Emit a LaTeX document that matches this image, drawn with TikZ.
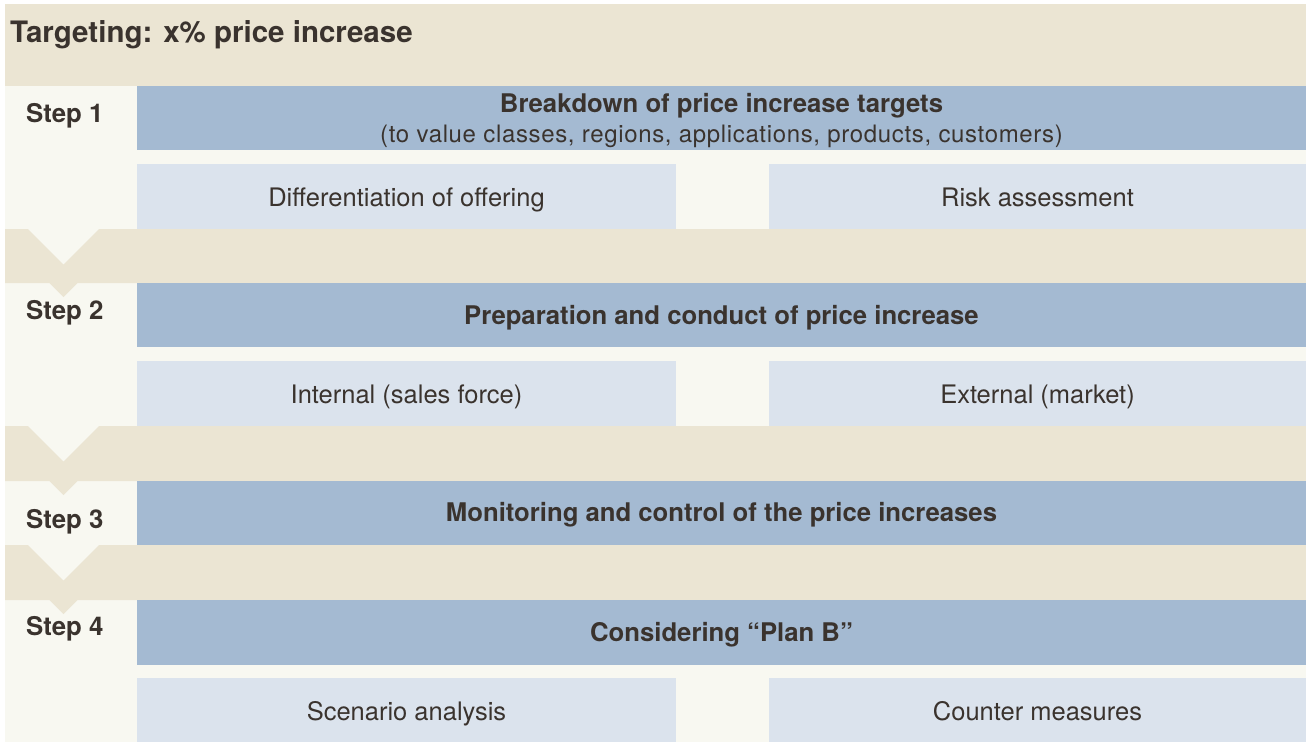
\documentclass[tikz,border=0pt]{standalone}
\usepackage{fontspec}
\setmainfont{TeX Gyre Heros}
\definecolor{cbeige}{HTML}{EBE5D3}
\definecolor{cdark}{HTML}{A4BAD2}
\definecolor{clight}{HTML}{DBE3ED}
\definecolor{coff}{HTML}{F8F8F1}
\definecolor{ctext}{HTML}{3A332E}
\begin{document}
\begin{tikzpicture}[x=1pt,y=-1pt,
  txt/.style={text=ctext, inner sep=0pt, anchor=base},
  titletxt/.style={txt, anchor=base west, font=\fontsize{29.5}{34}\selectfont\bfseries},
  steplbl/.style={txt, anchor=base west, font=\fontsize{25.8}{30}\selectfont\bfseries},
  headtxt/.style={txt, font=\fontsize{25.7}{30}\selectfont\bfseries},
  parentxt/.style={txt, font=\fontsize{24}{29}\selectfont\addfontfeature{LetterSpace=2.7}},
  subtxt/.style={txt, font=\fontsize{25.5}{30}\selectfont},
  band/.style={fill=cbeige}]
\useasboundingbox (0,0) rectangle (1306,742);
\fill[white] (0,0) rectangle (1306,742);
\fill[coff] (5,4) rectangle (1306,742);
% title band
\fill[cbeige] (5,4) rectangle (1306,86);
\node[titletxt] (title) at (10,42.7) {Targeting: x\% price increase};
% chevron bands
\foreach \yt/\yb in {229/283, 426/481, 545/600}{
  \fill[band] (5,\yt) -- (28,\yt) -- (63.5,\yt+35.5) -- (99,\yt) -- (1306,\yt)
    -- (1306,\yb) -- (77.5,\yb) -- (63.5,\yb+14) -- (49.5,\yb) -- (5,\yb) -- cycle;
}
% dark header bars
\fill[cdark] (137,86) rectangle (1306,150);
\fill[cdark] (137,283) rectangle (1306,347);
\fill[cdark] (137,481) rectangle (1306,545);
\fill[cdark] (137,600) rectangle (1306,665);
% light boxes
\fill[clight] (137,164) rectangle (676,229);
\fill[clight] (769,164) rectangle (1306,229);
\fill[clight] (137,361) rectangle (676,426);
\fill[clight] (769,361) rectangle (1306,426);
\fill[clight] (137,678) rectangle (676,742);
\fill[clight] (769,678) rectangle (1306,742);
% step labels
\node[steplbl] (step1) at (26,122.7) {Step 1};
\node[steplbl] (step2) at (26,319.5) {Step 2};
\node[steplbl] (step3) at (26,528) {Step 3};
\node[steplbl] (step4) at (26,635) {Step 4};
% headings
\node[headtxt] (h1) at (721.5,112.7) {Breakdown of price increase targets};
\node[parentxt] (h1b) at (721.5,142.7) {(to value classes, regions, applications, products, customers)};
\node[headtxt] (h2) at (721.5,324.3) {Preparation and conduct of price increase};
\node[headtxt] (h3) at (721.5,521.5) {Monitoring and control of the price increases};
\node[headtxt] (h4) at (721.5,641) {Considering “Plan B”};
% sub items
\node[subtxt] (s11) at (406.5,206.5) {Differentiation of offering};
\node[subtxt] (s12) at (1037.5,206.5) {Risk assessment};
\node[subtxt] (s21) at (406.5,403.5) {Internal (sales force)};
\node[subtxt] (s22) at (1037.5,403.5) {External (market)};
\node[subtxt] (s41) at (406.5,720) {Scenario analysis};
\node[subtxt] (s42) at (1037.5,720) {Counter measures};
\end{tikzpicture}
\end{document}
